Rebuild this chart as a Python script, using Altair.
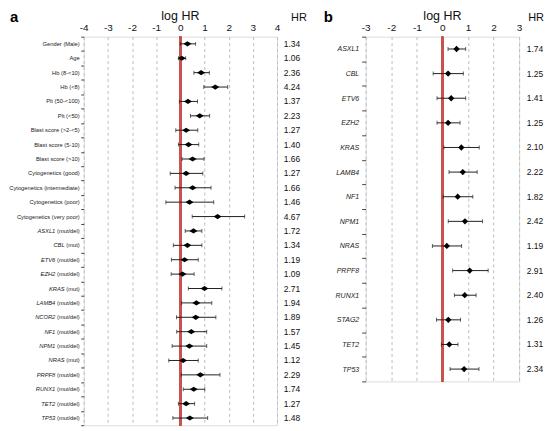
import altair as alt
import numpy as np
import pandas as pd

# ---------------- data ----------------
a_labels = ["Gender (Male)", "Age", "Hb (8-<10)", "Hb (<8)", "Plt (50-<100)", "Plt (<50)",
            "Blast score (>2-<5)", "Blast score (5-10)", "Blast score (>10)",
            "Cytogenetics (good)", "Cytogenetics (intermediate)", "Cytogenetics (poor)",
            "Cytogenetics (very poor)", "ASXL1 (mut/del)", "CBL (mut)", "ETV6 (mut/del)",
            "EZH2 (mut/del)", "KRAS (mut)", "LAMB4 (mut/del)", "NCOR2 (mut/del)",
            "NF1 (mut/del)", "NPM1 (mut/del)", "NRAS (mut)", "PRPF8 (mut/del)",
            "RUNX1 (mut/del)", "TET2 (mut/del)", "TP53 (mut/del)"]
a_hr = [1.34, 1.06, 2.36, 4.24, 1.37, 2.23, 1.27, 1.40, 1.66, 1.27, 1.66, 1.46, 4.67,
        1.72, 1.34, 1.19, 1.09, 2.71, 1.94, 1.89, 1.57, 1.45, 1.12, 2.29, 1.74, 1.27, 1.48]
a_lo = [0.00, -0.08, 0.56, 0.97, -0.04, 0.42, -0.19, -0.08, 0.07, -0.42, -0.22, -0.60, 0.49,
        0.20, -0.29, -0.37, -0.38, 0.33, 0.05, -0.16, -0.15, -0.34, -0.48, 0.04, 0.12, -0.08, -0.31]
a_hi = [0.63, 0.22, 1.20, 1.96, 0.71, 1.21, 0.72, 0.76, 0.98, 0.93, 1.27, 1.38, 2.66,
        0.89, 0.89, 0.74, 0.57, 1.72, 1.30, 1.47, 1.09, 1.09, 0.74, 1.64, 1.01, 0.59, 1.13]

b_labels = ["ASXL1", "CBL", "ETV6", "EZH2", "KRAS", "LAMB4", "NF1", "NPM1", "NRAS",
            "PRPF8", "RUNX1", "STAG2", "TET2", "TP53"]
b_hr = [1.74, 1.25, 1.41, 1.25, 2.10, 2.22, 1.82, 2.42, 1.19, 2.91, 2.40, 1.26, 1.31, 2.34]
b_lo = [0.22, -0.36, -0.21, -0.21, 0.06, 0.26, 0.03, 0.23, -0.39, 0.40, 0.47, -0.23, -0.04, 0.30]
b_hi = [0.91, 0.82, 0.91, 0.69, 1.44, 1.36, 1.19, 1.57, 0.75, 1.79, 1.32, 0.71, 0.61, 1.43]

a_ticks = [-4, -3, -2, -1, 0, 1, 2, 3, 4]
b_ticks = [-3, -2, -1, 0, 1, 2, 3]

# ---------------- style ----------------
FONT = "Liberation Sans"
RED = "#c9524e"
BAR = "#222222"
LAB_FS = 5.8

# Arial/Liberation advance widths (per em) for the suffix text
_W = {"(": 0.333, ")": 0.333, "m": 0.833, "u": 0.556, "t": 0.278, "/": 0.278,
      "d": 0.556, "e": 0.556, "l": 0.222, " ": 0.278}


def tw(s, fs):
    return sum(_W.get(c, 0.556) for c in s) * fs


def make_df(labels, hr, lo, hi):
    df = pd.DataFrame({"label": labels, "hr": hr, "lo": lo, "hi": hi})
    df["lhr"] = np.log(df["hr"])
    df["hrt"] = [f"{v:.2f}" for v in hr]
    return df


dfa = make_df(a_labels, a_hr, a_lo, a_hi)
is_gene = dfa["label"].str.contains(r"\(mut")
dfa["gene"] = np.where(is_gene, dfa["label"].str.split(" ").str[0], "")
dfa["suffix"] = np.where(is_gene, dfa["label"].str.split(" ").str[1], "")
dfa["plain"] = np.where(is_gene, "", dfa["label"])
dfb = make_df(b_labels, b_hr, b_lo, b_hi)


def panel(df, labels, ticks, W, H, letter, letter_x, italic_axis, cap, pt_shape, pt_size,
          hr_dx, hdr_dx, hdr_align):
    xs = alt.Scale(domain=[ticks[0], ticks[-1]], nice=False, zero=False)
    ys = alt.Scale(paddingInner=0, paddingOuter=0)
    if italic_axis:
        yaxis = alt.Axis(title=None, domain=False, tickBand="extent", tickSize=4,
                         tickColor="#444", labelFontSize=7, labelFontStyle="italic",
                         labelFont=FONT, labelPadding=3, labelColor="#222")
    else:
        yaxis = alt.Axis(title=None, domain=False, tickBand="extent", tickSize=3,
                         tickColor="#444", labels=False)
    xaxis = alt.Axis(orient="top", values=ticks, title=None, ticks=False, tickSize=0,
                     domain=False, labelFontSize=10, labelFont=FONT, labelPadding=4,
                     labelFlush=False, labelOverlap=False, labelColor="#111",
                     labelExpr="'' + datum.value",
                     grid=True, gridDash=[3, 3], gridColor="#bdbdbd", gridWidth=1)

    def X(f):
        return alt.X(f, scale=xs, axis=xaxis, title=None)

    Y = alt.Y("label:N", sort=labels, scale=ys, axis=yaxis, title=None)
    base = alt.Chart(df)
    bars = base.mark_rule(color=BAR, strokeWidth=1).encode(x=X("lo:Q"), x2="hi:Q", y=Y)
    cap_lo = base.mark_tick(color=BAR, thickness=1, size=cap).encode(x=X("lo:Q"), y=Y)
    cap_hi = base.mark_tick(color=BAR, thickness=1, size=cap).encode(x=X("hi:Q"), y=Y)
    zero = base.mark_rule(color=RED, strokeWidth=1.8).encode(x=alt.X(datum=0, scale=xs, axis=xaxis))
    pts = base.mark_point(shape=pt_shape, filled=True, color="black", opacity=1,
                          size=pt_size, strokeWidth=0).encode(x=X("lhr:Q"), y=Y)
    hrs = base.mark_text(font=FONT, fontSize=8.5, align="center", baseline="middle",
                         color="#111").encode(y=Y, x=alt.value(W + hr_dx), text="hrt:N")
    t_log = alt.Chart(pd.DataFrame({"t": ["log HR"]})).mark_text(
        font=FONT, fontSize=12.5, align="center", baseline="alphabetic", color="#111").encode(
        x=alt.value(W / 2), y=alt.value(-17), text="t:N")
    t_hr = alt.Chart(pd.DataFrame({"t": ["HR"]})).mark_text(
        font=FONT, fontSize=11, align=hdr_align, baseline="alphabetic", color="#111").encode(
        x=alt.value(W + hdr_dx), y=alt.value(-16), text="t:N")
    t_let = alt.Chart(pd.DataFrame({"t": [letter]})).mark_text(
        font=FONT, fontSize=15, fontWeight="bold", align="left", baseline="alphabetic",
        color="black").encode(x=alt.value(letter_x), y=alt.value(-15), text="t:N")
    layers = [zero, bars, cap_lo, cap_hi, pts, hrs, t_log, t_hr, t_let]
    if not italic_axis:
        lx = -4
        plain = base.transform_filter("datum.plain != ''").mark_text(
            font=FONT, fontSize=LAB_FS, align="right", baseline="middle", color="#222").encode(
            y=Y, x=alt.value(lx), text="plain:N")
        suf = base.transform_filter("datum.suffix != ''").mark_text(
            font=FONT, fontSize=LAB_FS, align="right", baseline="middle", color="#222").encode(
            y=Y, x=alt.value(lx), text="suffix:N")
        layers += [plain, suf]
        for s in ["(mut/del)", "(mut)"]:
            off = lx - tw(" " + s, LAB_FS)
            g = base.transform_filter(f"datum.suffix == '{s}'").mark_text(
                font=FONT, fontSize=LAB_FS, fontStyle="italic", align="right",
                baseline="middle", color="#222").encode(
                y=Y, x=alt.value(off), text="gene:N")
            layers.append(g)
    return alt.layer(*layers).properties(width=W, height=H)


diamond_wide = "M-1,0L0,-0.65L1,0L0,0.65Z"
pa = panel(dfa, a_labels, a_ticks, 194, 390, "a", -74, False, 4, diamond_wide, 64, 15, 22, "center")
pb = panel(dfb, b_labels, b_ticks, 154, 346, "b", -42, True, 4, "diamond", 40, 16, 25, "right")

chart = alt.hconcat(pa, pb, spacing=15).properties(padding=0).configure_view(
    stroke="#555", strokeWidth=1).configure(font=FONT)

chart.save("out.html", embed_options={"renderer": "svg", "actions": False})
